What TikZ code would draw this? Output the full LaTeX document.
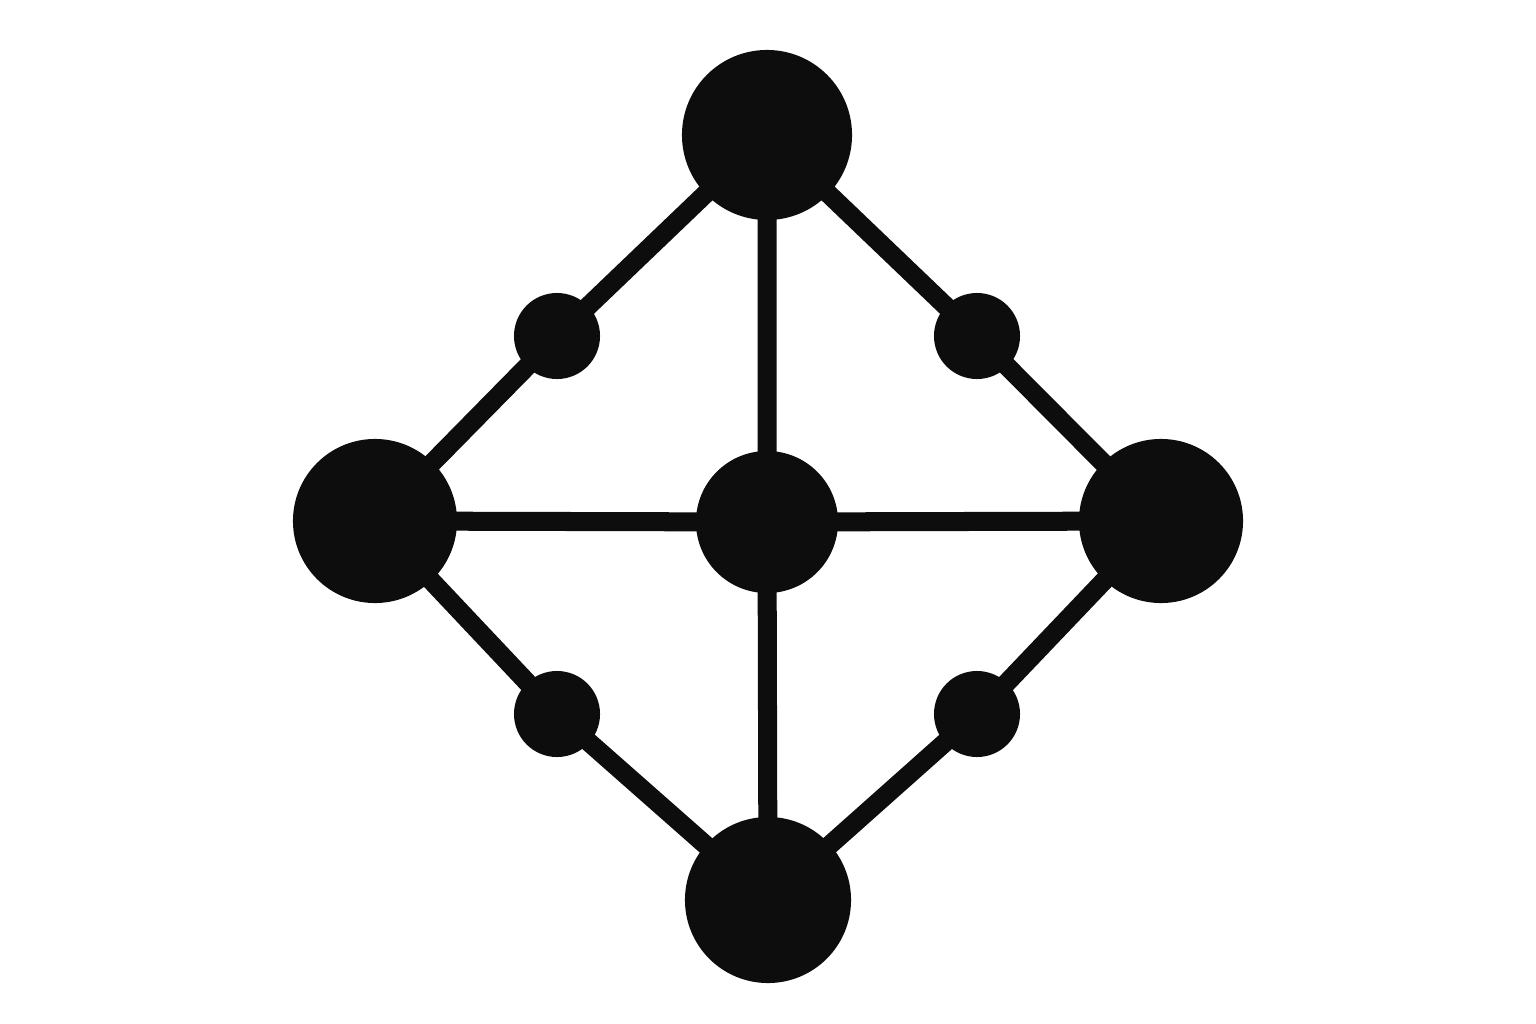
\documentclass[tikz,border=0pt]{standalone}
\pgfdeclarelayer{paper}
\pgfdeclarelayer{edges}
\pgfsetlayers{paper,edges,main}
\begin{document}
\begin{tikzpicture}[x=0.01cm,y=-0.01cm]
\definecolor{ink}{HTML}{0D0D0D}
\tikzset{
  big/.style={circle,fill=ink,inner sep=0pt,outer sep=0pt,minimum size=1.66cm},
  mid/.style={circle,fill=ink,inner sep=0pt,outer sep=0pt,minimum size=1.42cm},
  small/.style={circle,fill=ink,inner sep=0pt,outer sep=0pt,minimum size=0.86cm},
  bar/.style={draw=ink,line width=0.19cm}
}
\begin{pgfonlayer}{paper}
\fill[white] (0,0) rectangle (1536,1024);
\end{pgfonlayer}
\useasboundingbox (0,0) rectangle (1536,1024);
\node[big,minimum size=1.7cm] (T) at (767,135) {};
\node[big,minimum size=1.64cm] (L) at (375,521) {};
\node[big,minimum size=1.64cm] (R) at (1161,521) {};
\node[big] (B) at (768,900) {};
\node[mid] (C) at (767,522) {};
\node[small] (TL) at (557,336) {};
\node[small] (TR) at (977,336) {};
\node[small] (BL) at (557,714) {};
\node[small] (BR) at (977,714) {};
\begin{pgfonlayer}{edges}
\draw[bar] (T.center) -- (TL.center) -- (L.center);
\draw[bar] (T.center) -- (TR.center) -- (R.center);
\draw[bar] (L.center) -- (BL.center) -- (B.center);
\draw[bar] (R.center) -- (BR.center) -- (B.center);
\draw[bar] (L.center) -- (C.center) -- (R.center);
\draw[bar] (T.center) -- (C.center) -- (B.center);
\end{pgfonlayer}
\end{tikzpicture}
\end{document}
